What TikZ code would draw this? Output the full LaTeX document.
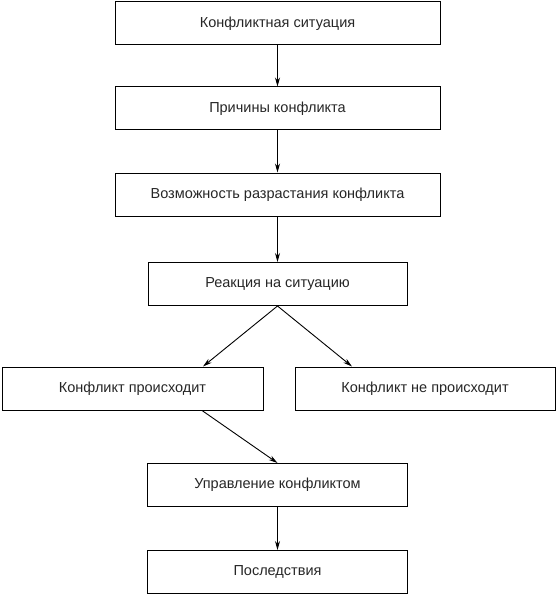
\documentclass[tikz,border=0pt]{standalone}
\usepackage{fontspec}
\setmainfont{Liberation Sans}
\usetikzlibrary{arrows.meta,calc}
\begin{document}
\begin{tikzpicture}[x=1pt,y=-1pt,
  box/.style={draw=black,line width=1pt,minimum height=43pt,inner sep=0pt,font=\fontsize{14.5}{17}\selectfont,text=black!85},
  arr/.style={line width=0.9pt,-{Stealth[length=9pt,width=5pt]}}]
\useasboundingbox (0,0) rectangle (557,596);
\node[box,minimum width=325pt] (b1) at (277.5,23.5) {Конфликтная ситуация};
\node[box,minimum width=325pt] (b2) at (277.5,108.5) {Причины конфликта};
\node[box,minimum width=325pt] (b3) at (277.5,194.5) {Возможность разрастания конфликта};
\node[box,minimum width=259pt] (b4) at (277.5,284) {Реакция на ситуацию};
\node[box,minimum width=261pt] (b5) at (132.5,388.5) {Конфликт происходит};
\node[box,minimum width=260pt] (b6) at (425,388.5) {Конфликт не происходит};
\node[box,minimum width=260pt] (b7) at (277.5,485) {Управление конфликтом};
\node[box,minimum width=260pt] (b8) at (277.5,572) {Последствия};
\draw[arr] (b1) -- (b2);
\draw[arr] (b2) -- (b3);
\draw[arr] (b3) -- (b4);
\draw[arr] (b4.south) -- ([xshift=70.5pt]b5.north);
\draw[arr] (b4.south) -- ([xshift=-73pt]b6.north);
\draw[arr] ([xshift=69.5pt]b5.south) -- (b7.north);
\draw[arr] (b7) -- (b8);
\end{tikzpicture}
\end{document}
